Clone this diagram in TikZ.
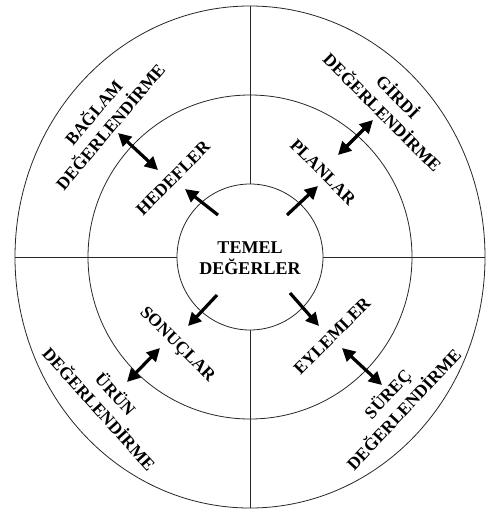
\documentclass[tikz,border=0pt]{standalone}
\usepackage{fontspec}
\setmainfont{Liberation Serif}
\usetikzlibrary{arrows.meta}
\begin{document}
\begin{tikzpicture}[x=1pt,y=-1pt,
  ring/.style={draw=black!85,line width=0.8pt},
  lbl/.style={font=\bfseries\fontsize{17.5}{22}\selectfont,align=center,inner sep=0pt},
  cen/.style={font=\bfseries\fontsize{18}{21}\selectfont,align=center,inner sep=0pt},
  onearrow/.style={line width=3.2pt,-{Triangle[length=13pt,width=13pt]}},
  twoarrow/.style={line width=3.2pt,{Triangle[length=13pt,width=13pt]}-{Triangle[length=13pt,width=13pt]}}
]
\useasboundingbox (0,0) rectangle (495,522);
\coordinate (c) at (250,257);
\draw[ring] (c) ellipse [x radius=235, y radius=251];
\draw[ring] (c) circle [radius=162];
\draw[ring] (c) circle [radius=73];
% dividing lines
\coordinate (vt1) at (250,6);   \coordinate (vt2) at (250,184);
\coordinate (vb1) at (250,330); \coordinate (vb2) at (250,508);
\coordinate (hl1) at (15,257);  \coordinate (hl2) at (177,257);
\coordinate (hr1) at (323,257); \coordinate (hr2) at (485,257);
\draw[ring] (vt1) -- (vt2);
\draw[ring] (vb1) -- (vb2);
\draw[ring] (hl1) -- (hl2);
\draw[ring] (hr1) -- (hr2);
% centre
\node[cen] (temel) at (250,258) {TEMEL\\DEĞERLER};
% inner labels
\node[lbl,rotate=45]  (hed) at (173,178) {HEDEFLER};
\node[lbl,rotate=-45] (pla) at (323,172) {PLANLAR};
\node[lbl,rotate=-45] (son) at (177,345) {SONUÇLAR};
\node[lbl,rotate=45]  (eyl) at (332,336) {EYLEMLER};
% outer labels
\node[lbl,rotate=50]  (bag) at (101,119) {BAĞLAM\\DEĞERLENDİRME};
\node[lbl,rotate=-45] (gir) at (391,104) {GİRDİ\\DEĞERLENDİRME};
\node[lbl,rotate=-48] (uru) at (108,401) {ÜRÜN\\DEĞERLENDİRME};
\node[lbl,rotate=47]  (sur) at (395,401) {SÜREÇ\\DEĞERLENDİRME};
% single arrows
\coordinate (a1t) at (218,215); \coordinate (a1h) at (185,189);
\coordinate (a2t) at (287,215); \coordinate (a2h) at (318,186);
\coordinate (a3t) at (217,295); \coordinate (a3h) at (188,326);
\coordinate (a4t) at (290,293); \coordinate (a4h) at (319,326);
\draw[onearrow] (a1t) -- (a1h);
\draw[onearrow] (a2t) -- (a2h);
\draw[onearrow] (a3t) -- (a3h);
\draw[onearrow] (a4t) -- (a4h);
% double arrows
\coordinate (d1a) at (118,133); \coordinate (d1b) at (158,170);
\coordinate (d2a) at (373,120); \coordinate (d2b) at (338,155);
\coordinate (d3a) at (160,348); \coordinate (d3b) at (127,382);
\coordinate (d4a) at (342,348); \coordinate (d4b) at (382,385);
\draw[twoarrow] (d1a) -- (d1b);
\draw[twoarrow] (d2a) -- (d2b);
\draw[twoarrow] (d3a) -- (d3b);
\draw[twoarrow] (d4a) -- (d4b);
\end{tikzpicture}
\end{document}
